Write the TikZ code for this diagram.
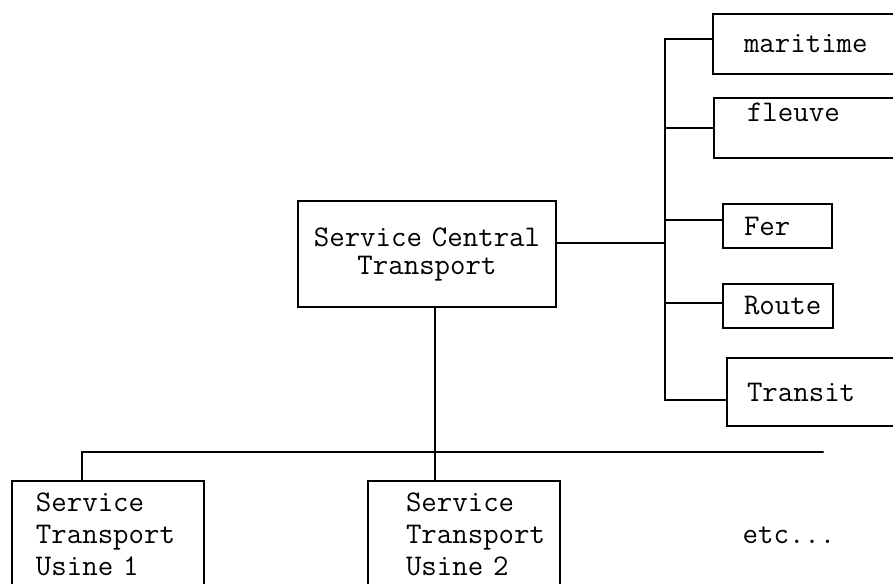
\documentclass[tikz,border=0pt]{standalone}
\usepackage{fontspec}
\newcommand{\tw}{\ttfamily\addfontfeature{FakeBold=0.6}}
\begin{document}
\begin{tikzpicture}[x=1pt,y=1pt,
  every node/.style={font=\fontsize{30}{31}\selectfont\tw},
  conn/.style={line width=2.3pt, line cap=round},
  box/.style={draw, line width=2pt, anchor=north west, inner sep=0pt, align=left},
  cbox/.style={draw, line width=2pt, anchor=north west, inner sep=0pt, align=center}]
\useasboundingbox (0,0) rectangle (893,-583);
\clip (0,0) rectangle (893,-583);
\fill[white] (0,0) rectangle (893,-583);
% right-hand boxes
\node[box, text width=200pt, minimum height=60pt] (m) at (712,-13) {\hspace*{31pt}maritime};
\node[box, text width=200pt, minimum height=60pt] (f) at (713,-97) {\hspace*{33pt}fleuve\\\mbox{}};
\node[box, text width=109pt, minimum height=44pt] (fe) at (722,-203) {\hspace*{21pt}Fer};
\node[box, text width=110pt, minimum height=44pt] (r) at (722,-283) {\hspace*{21pt}Route};
\node[box, text width=200pt, minimum height=68pt] (t) at (726,-357) {\hspace*{20pt}Transit};
% central box
\node[cbox, text width=258pt, minimum height=106pt, font=\fontsize{30}{28}\selectfont\tw] (c) at (297,-200) {Service Central\\Transport};
% bottom boxes
\node[box, text width=192pt, minimum height=106pt, font=\fontsize{30}{32}\selectfont\tw] (u1) at (11,-480)
  {\hspace*{24pt}Service\\\hspace*{24pt}Transport\\\hspace*{24pt}Usine 1};
\node[box, text width=192pt, minimum height=106pt, font=\fontsize{30}{32}\selectfont\tw] (u2) at (367,-480)
  {\hspace*{38pt}Service\\\hspace*{38pt}Transport\\\hspace*{38pt}Usine 2};
\node (etc) at (789,-535) {etc...};
% coordinates
\coordinate (bus) at (665,0);
\coordinate (vx) at (435,0);
\coordinate (bl) at (82,-452);
\coordinate (br) at (823,-452);
% right tree
\draw[conn] ([yshift=5pt]m.west) -| ([yshift=-8pt]t.west -| bus) -- ([yshift=-8pt]t.west);
\draw[conn] (f.west) -- (f.west -| bus);
\draw[conn] ([yshift=6pt]fe.west) -- ([yshift=6pt]fe.west -| bus);
\draw[conn] ([yshift=3pt]r.west) -- ([yshift=3pt]r.west -| bus);
\draw[conn] ([yshift=11pt]c.east) -- ([yshift=11pt]c.east -| bus);
% bottom tree
\draw[conn] (c.south -| vx) -- (u2.north -| vx);
\draw[conn] (u1.north -| bl) -- (bl) -- (br);
\end{tikzpicture}
\end{document}
